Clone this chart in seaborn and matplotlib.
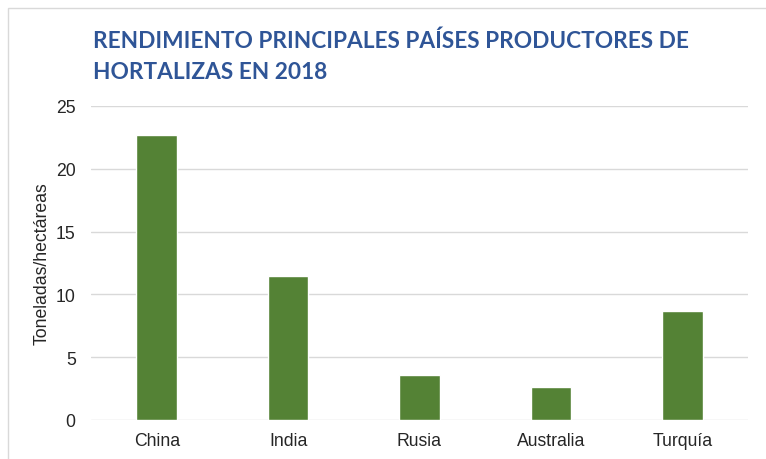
import matplotlib
matplotlib.use("Agg")
import matplotlib.pyplot as plt
import matplotlib.patches as mpatches
import seaborn as sb
import pandas as pd

paises = ["China", "India", "Rusia", "Australia", "Turquía"]
rendimiento = [22.7, 11.5, 3.6, 2.6, 8.7]
yticks = [0, 5, 10, 15, 20, 25]

titulo = "RENDIMIENTO PRINCIPALES PAÍSES PRODUCTORES DE\nHORTALIZAS EN 2018"
ylabel = "Toneladas/hectáreas"

sb.set_style("white")
plt.rcParams['font.family'] = ['Liberation Sans', 'DejaVu Sans']

df = pd.DataFrame({"Pais": paises, "Rendimiento": rendimiento})

fig = plt.figure(figsize=(7.66, 4.60), dpi=100)
ax = fig.add_axes([0.1188, 0.0848, 0.8577, 0.6826])

sb.barplot(data=df, x="Pais", y="Rendimiento", color="#548235", width=0.31,
           saturation=1, ax=ax, zorder=3)

ax.set_ylim(0, 25)
ax.set_yticks(yticks)
ax.set_xlim(-0.5, len(paises) - 0.5)
ax.yaxis.grid(True, color="#D9D9D9", linewidth=1, zorder=0)
ax.set_axisbelow(True)
for s in ax.spines.values():
    s.set_visible(False)
ax.tick_params(axis="both", length=0, labelsize=12.7, colors="#262626")
ax.tick_params(axis="y", pad=11)
ax.tick_params(axis="x", pad=9)
ax.set_xlabel("")
ax.set_ylabel(ylabel, fontsize=12.7, color="#262626", labelpad=4)

fig.text(93 / 766, 1 - 30 / 460, titulo, ha="left", va="top", fontsize=16.3,
         fontweight="bold", color="#2F5597", family=["Lato", "DejaVu Sans"],
         linespacing=1.6)

# chart border
fig.patches.append(mpatches.Rectangle((8 / 766, -0.05), 1.0, 1 - 9 / 460 + 0.05,
                                      transform=fig.transFigure, fill=False,
                                      edgecolor="#D9D9D9", linewidth=1))

fig.savefig("out.png", dpi=100)
